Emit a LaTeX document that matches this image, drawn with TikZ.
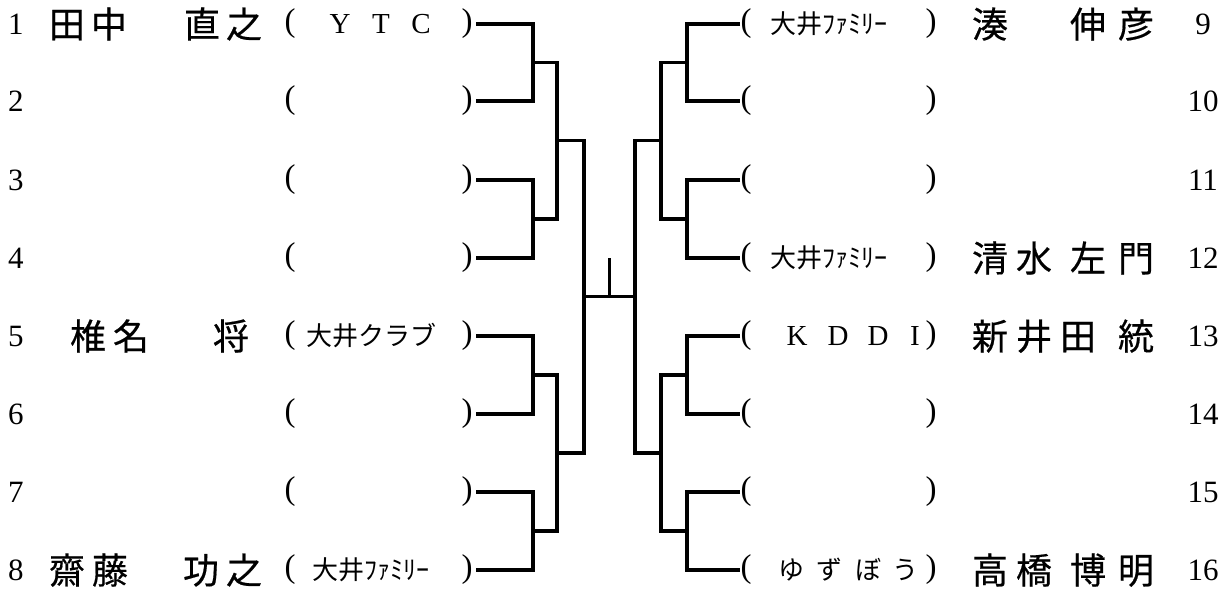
\documentclass[tikz,border=0pt]{standalone}
\usepackage{fontspec}
\setmainfont{Liberation Serif}
\newfontfamily\jp{Noto Sans CJK JP}
\newfontfamily\jpn[FakeBold=0.5]{Noto Sans CJK JP}
\usetikzlibrary{calc}
\tikzset{
  br/.style={line width=3.2pt, line join=miter, line cap=butt},
  nm/.style={font=\jpn\fontsize{36}{36}\selectfont, inner sep=0pt, text height=31.7pt, text depth=4.3pt, anchor=center},
  cl/.style={font=\jp\fontsize{26}{26}\selectfont, inner sep=0pt, text height=22.9pt, text depth=3.1pt, anchor=center},
  lt/.style={font=\fontsize{29}{29}\selectfont, inner sep=0pt, anchor=center},
  pr/.style={font=\fontsize{33}{33}\selectfont, inner sep=0pt, anchor=center},
  num/.style={font=\fontsize{31}{31}\selectfont, inner sep=0pt, anchor=center},
}
\begin{document}
\begin{tikzpicture}[x=1pt,y=-1pt]
\useasboundingbox (0,0) rectangle (1232,598);
% rows
\def\ry{{24,101,180,258,336,414,492,570}}
% numbers and parentheses
\foreach \i [count=\k from 0] in {1,...,8}{
  \pgfmathsetmacro\yy{\ry[\k]}
  \node[num] (nl\i) at (16,\yy) {\i};
  \node[pr] (pl\i) at (290,\yy) {(};
  \node[pr] (ql\i) at (467,\yy) {)};
  \coordinate (L\i) at (476,\yy);
}
\foreach \i [count=\k from 0] in {9,...,16}{
  \pgfmathsetmacro\yy{\ry[\k]}
  \node[num] (nr\i) at (1203,\yy) {\i};
  \node[pr] (pr\i) at (746,\yy) {(};
  \node[pr] (qr\i) at (931,\yy) {)};
  \coordinate (R\i) at (740,\yy);
}
% names left
\foreach \c/\x in {田/67,中/109,直/202,之/244} \node[nm] (a1-\x) at (\x,24) {\c};
\foreach \c/\x in {椎/88,名/131,将/231} \node[nm] (a5-\x) at (\x,336) {\c};
\foreach \c/\x in {齋/67,藤/110,功/201,之/244} \node[nm] (a8-\x) at (\x,570) {\c};
% names right
\foreach \c/\x in {湊/990,伸/1088,彦/1136} \node[nm] (a9-\x) at (\x,24) {\c};
\foreach \c/\x in {清/990,水/1034,左/1088,門/1136} \node[nm] (a12-\x) at (\x,258) {\c};
\foreach \c/\x in {新/990,井/1034,田/1078,統/1136} \node[nm] (a13-\x) at (\x,336) {\c};
\foreach \c/\x in {高/990,橋/1034,博/1088,明/1136} \node[nm] (a16-\x) at (\x,570) {\c};
% clubs
\foreach \c/\x in {Y/340,T/381,C/421} \node[lt] (c1-\x) at (\x,24) {\c};
\node[cl] (c5) at (371,336) {大井クラブ};
\node[cl] (c8) at (371,570) {大井ﾌｧﾐﾘｰ};
\node[cl] (c9) at (829,24) {大井ﾌｧﾐﾘｰ};
\node[cl] (c12) at (829,258) {大井ﾌｧﾐﾘｰ};
\foreach \c/\x in {K/797,D/838,D/878,I/915} \node[lt] (c13-\x) at (\x,336) {\c};
\foreach \c/\x in {ゆ/791,ず/829,ぼ/868,う/905} \node[cl] (c16-\x) at (\x,570) {\c};
% bracket x positions
\coordinate (vl1) at (533,0); \coordinate (vl2) at (557,0); \coordinate (vl3) at (584,0);
\coordinate (vr1) at (687,0); \coordinate (vr2) at (661,0); \coordinate (vr3) at (635,0);
% left side
\foreach \a/\b/\m in {1/2/12,3/4/34,5/6/56,7/8/78}{
  \draw[br] (L\a) -- (L\a -| vl1) -- (L\b -| vl1) -- (L\b);
  \coordinate (M\m) at ($(L\a -| vl1)!.5!(L\b -| vl1)$);
}
\foreach \a/\b/\m in {12/34/1234,56/78/5678}{
  \draw[br] (M\a) -- (M\a -| vl2) -- (M\b -| vl2) -- (M\b);
  \coordinate (M\m) at ($(M\a -| vl2)!.5!(M\b -| vl2)$);
}
\draw[br] (M1234) -- (M1234 -| vl3) -- (M5678 -| vl3) -- (M5678);
\coordinate (CL) at ($(M1234 -| vl3)!.5!(M5678 -| vl3)$);
% right side
\foreach \a/\b/\m in {9/10/910,11/12/1112,13/14/1314,15/16/1516}{
  \draw[br] (R\a) -- (R\a -| vr1) -- (R\b -| vr1) -- (R\b);
  \coordinate (N\m) at ($(R\a -| vr1)!.5!(R\b -| vr1)$);
}
\foreach \a/\b/\m in {910/1112/912,1314/1516/1316}{
  \draw[br] (N\a) -- (N\a -| vr2) -- (N\b -| vr2) -- (N\b);
  \coordinate (N\m) at ($(N\a -| vr2)!.5!(N\b -| vr2)$);
}
\draw[br] (N912) -- (N912 -| vr3) -- (N1316 -| vr3) -- (N1316);
\coordinate (CR) at ($(N912 -| vr3)!.5!(N1316 -| vr3)$);
% final
\draw[br] (CL) -- (CR);
\coordinate (CM) at ($(CL)!.5!(CR)$);
\coordinate (CT) at ($(CM)+(0,-39)$);
\draw[br] (CM) -- (CT);
\end{tikzpicture}
\end{document}
